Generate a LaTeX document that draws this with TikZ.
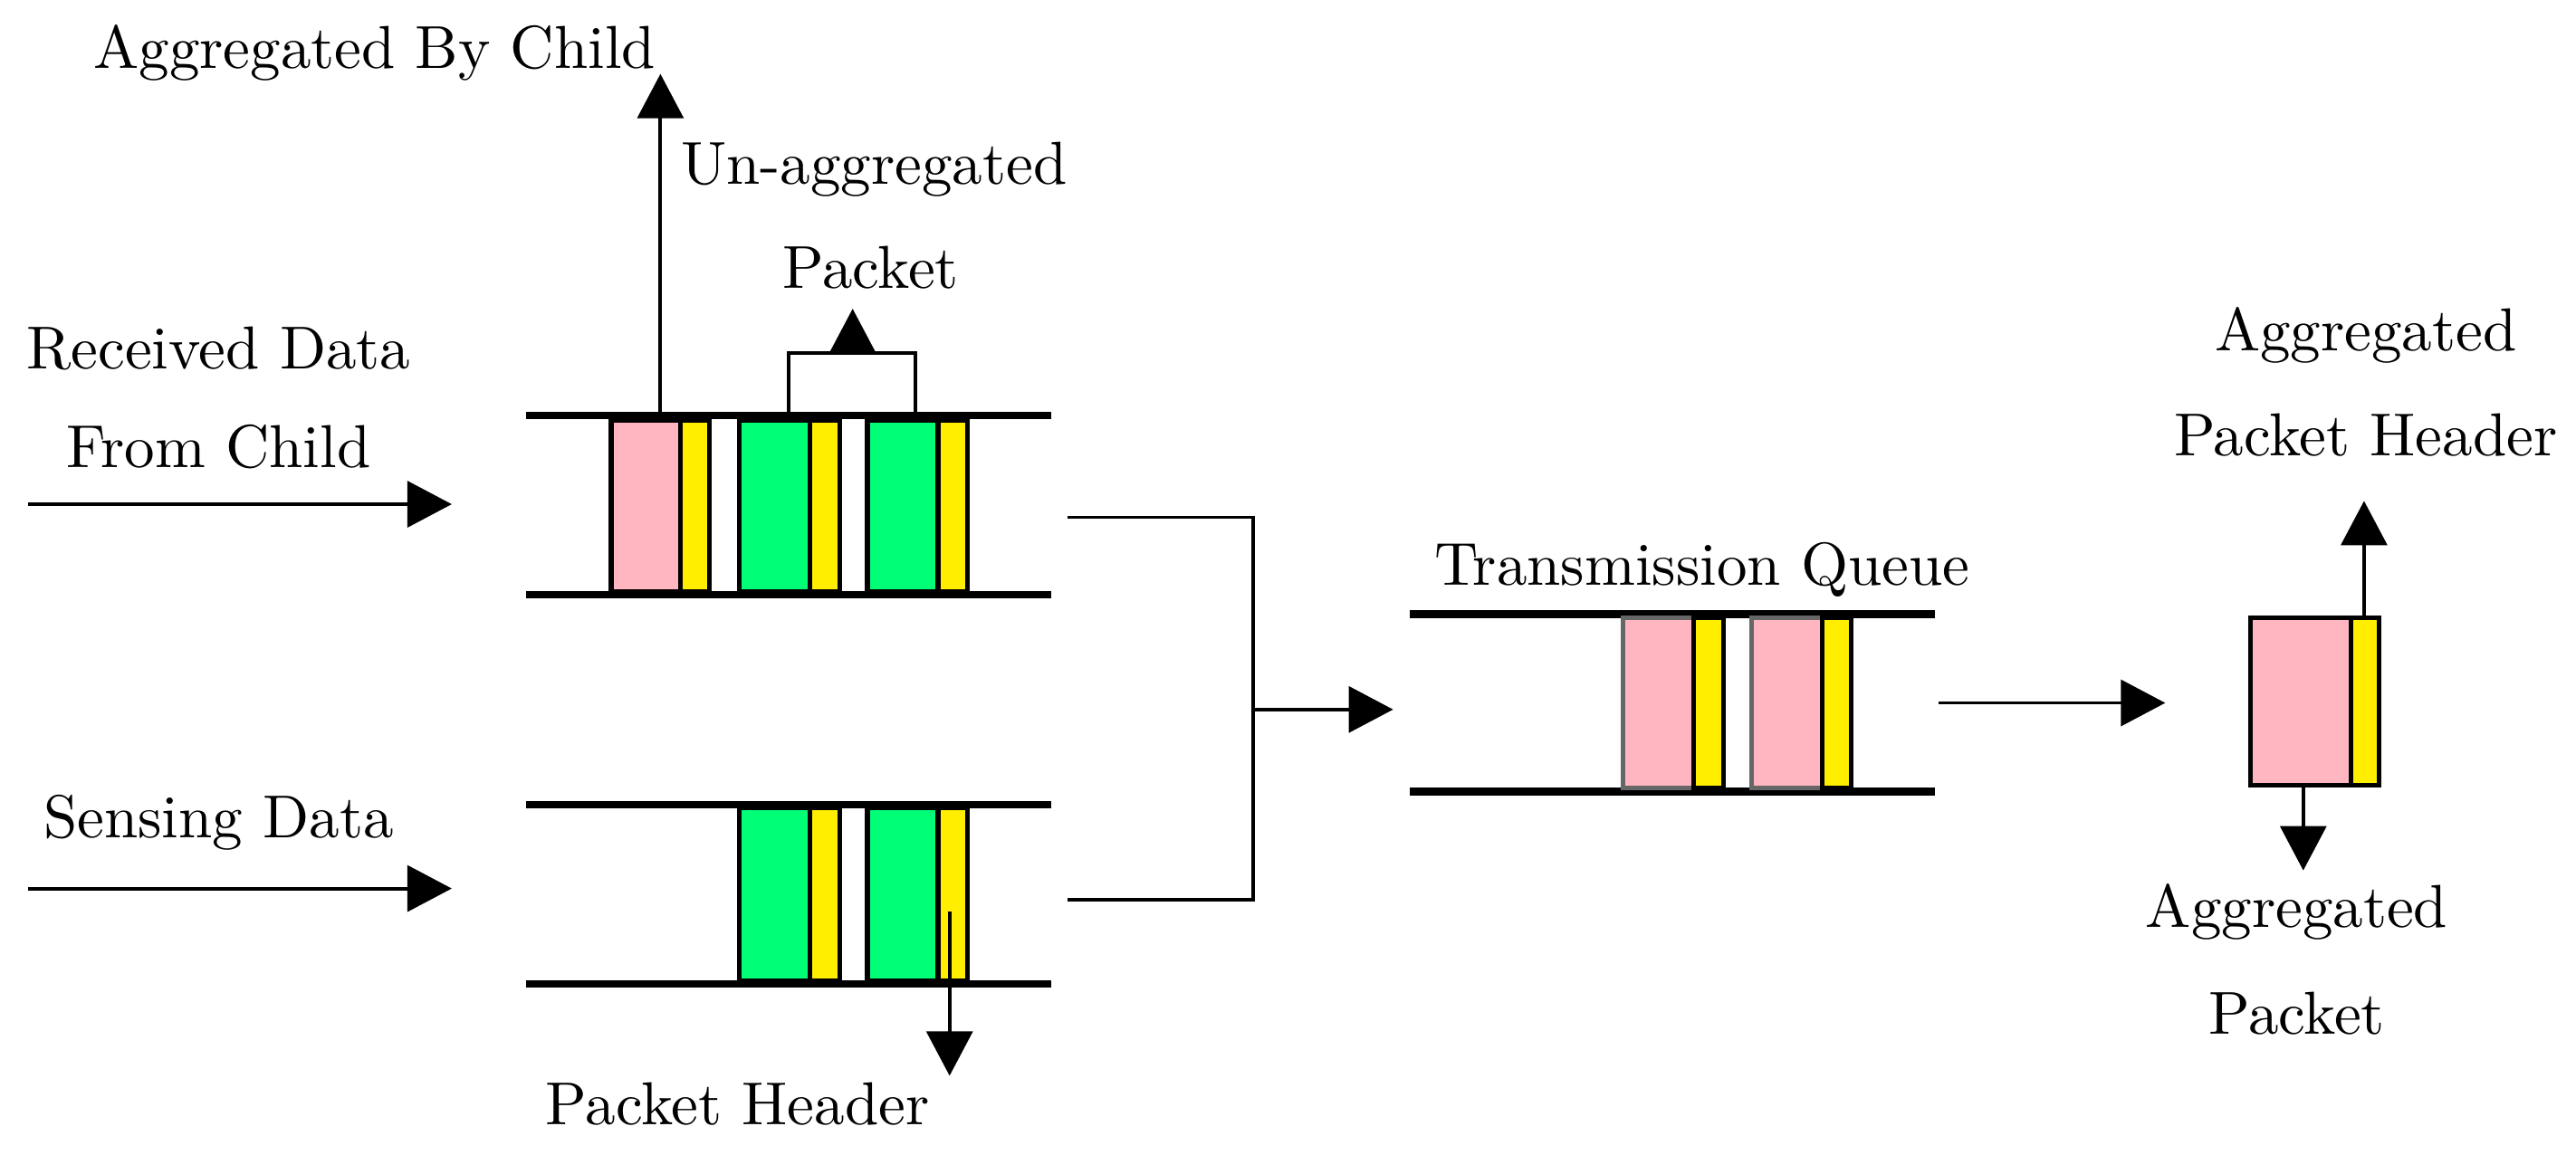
\documentclass[tikz,border=0pt]{standalone}
\usetikzlibrary{arrows.meta}
\definecolor{pk}{HTML}{FFB6C1}
\definecolor{gr}{HTML}{00FF77}
\definecolor{ye}{HTML}{FFEE00}
\begin{document}
\begin{tikzpicture}[x=0.01cm,y=-0.01cm,
 q/.style={line width=1.3pt},
 box/.style={draw,line width=0.8pt},
 ar/.style={line width=0.6pt,-{Triangle[length=0.27cm,width=0.28cm]}},
 ln/.style={line width=0.6pt},
 lab/.style={font=\fontsize{10.5}{12}\selectfont,inner sep=0pt}]
\useasboundingbox (0,0) rectangle (1568,703);
% top queue
\draw[q] (320,253) -- (640,253); \draw[q] (320,362) -- (640,362);
\draw[box,fill=pk] (372,256) rectangle (414,360);
\draw[box,fill=ye] (414,256) rectangle (432,360);
\draw[box,fill=gr] (450,256) rectangle (493,360);
\draw[box,fill=ye] (493,256) rectangle (511,360);
\draw[box,fill=gr] (528,256) rectangle (571,360);
\draw[box,fill=ye] (571,256) rectangle (589,360);
\coordinate (pk1) at (402,253); \coordinate (abc) at (402,45);
\draw[ar] (pk1) -- (abc);
\node[lab] at (228,32) {Aggregated By Child};
\coordinate (b1) at (480,253); \coordinate (b2) at (557,253);
\draw[ln] (b1) -- (480,215) -- (557,215) -- (b2);
\coordinate (bm) at (519,215); \coordinate (bt) at (519,188);
\draw[ar] (bm) -- (bt);
\node[lab] at (532,103) {Un-aggregated};
\node[lab] at (530,163) {Packet};
\node[lab] at (133,212) {Received Data};
\node[lab] at (133,272) {From Child};
\coordinate (r1) at (17,307); \coordinate (r2) at (275,307);
\draw[ar] (r1) -- (r2);
% bottom queue
\draw[q] (320,490) -- (640,490); \draw[q] (320,599) -- (640,599);
\draw[box,fill=gr] (450,492) rectangle (493,597);
\draw[box,fill=ye] (493,492) rectangle (511,597);
\draw[box,fill=gr] (528,492) rectangle (571,597);
\draw[box,fill=ye] (571,492) rectangle (589,597);
\coordinate (h1) at (578,555); \coordinate (h2) at (578,655);
\draw[ar] (h1) -- (h2);
\node[lab] at (449,672) {Packet Header};
\node[lab] at (133,501) {Sensing Data};
\coordinate (s1) at (17,541); \coordinate (s2) at (275,541);
\draw[ar] (s1) -- (s2);
% merge
\coordinate (m1) at (650,315); \coordinate (m2) at (650,548);
\draw[ln] (m1) -- (763,315) -- (763,548) -- (m2);
\coordinate (mj) at (763,432); \coordinate (mt) at (848,432);
\draw[ar] (mj) -- (mt);
% transmission queue
\node[lab] at (1036,347) {Transmission Queue};
\draw[q] (858,374) -- (1178,374); \draw[q] (858,482) -- (1178,482);
\draw[box,draw=gray!80!black,fill=pk] (988,376) rectangle (1031,480);
\draw[box,fill=ye] (1031,376) rectangle (1049,480);
\draw[box,draw=gray!80!black,fill=pk] (1066,376) rectangle (1109,480);
\draw[box,fill=ye] (1109,376) rectangle (1127,480);
\coordinate (t1) at (1180,428); \coordinate (t2) at (1318,428);
\draw[ar] (t1) -- (t2);
% aggregated packet
\draw[box,fill=pk] (1370,376) rectangle (1431,478);
\draw[box,fill=ye] (1431,376) rectangle (1448,478);
\coordinate (u1) at (1439,376); \coordinate (u2) at (1439,305);
\draw[ar] (u1) -- (u2);
\node[lab] at (1440,204) {Aggregated};
\node[lab] at (1440,265) {Packet Header};
\coordinate (d1) at (1402,478); \coordinate (d2) at (1402,530);
\draw[ar] (d1) -- (d2);
\node[lab] at (1398,555) {Aggregated};
\node[lab] at (1398,617) {Packet};
\end{tikzpicture}
\end{document}
